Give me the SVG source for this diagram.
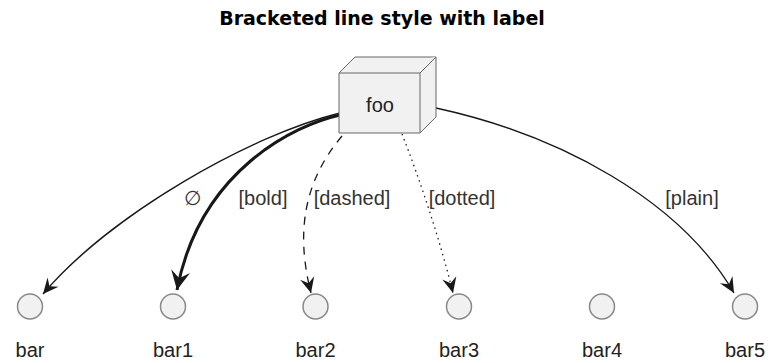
<svg xmlns="http://www.w3.org/2000/svg" width="769" height="363" viewBox="0 0 769 363">
<style>
.title{font-family:"DejaVu Sans",sans-serif;font-weight:bold;font-size:19px;fill:#000}
.lbl{font-family:"Liberation Sans",Arial,sans-serif;font-size:20px;fill:#222}
.elbl{font-family:"Liberation Sans",Arial,sans-serif;font-size:20px;fill:#333}
.circ{fill:#F1F1F1;stroke:#888;stroke-width:1.5}
.box{fill:#F1F1F1;stroke:#666;stroke-width:1}
.e{fill:none;stroke:#181818;stroke-width:1.3}
.bold{stroke-width:3}
</style>
<defs>
<marker id="ah" markerUnits="userSpaceOnUse" markerWidth="20" markerHeight="20" refX="0" refY="0" viewBox="-16 -8 18 16" orient="auto" overflow="visible">
<path d="M0,0 L-14,-6.5 L-9,0 L-14,6.5 Z" fill="#181818"/>
</marker>
<marker id="ahb" markerUnits="userSpaceOnUse" markerWidth="24" markerHeight="24" refX="0" refY="0" viewBox="-18 -9 20 18" orient="auto" overflow="visible">
<path d="M0,0 L-16,-8 L-10,0 L-16,8 Z" fill="#181818"/>
</marker>
</defs>
<text class="title" x="382" y="25" text-anchor="middle">Bracketed line style with label</text>
<g id="connectors">
<path class="e" d="M340,113 C250,135 110,215 43,294" marker-end="url(#ah)"/>
<path class="e bold" d="M340,115 C295,125 200,170 177,290" marker-end="url(#ahb)"/>
<path class="e" d="M342,136 C305,180 295,230 311,293" stroke-dasharray="8,7" marker-end="url(#ah)"/>
<path class="e" d="M402,134 C420,180 440,240 453,293" stroke-dasharray="1.5,4" marker-end="url(#ah)"/>
<path class="e" d="M436,108 C560,135 680,200 734,293" marker-end="url(#ah)"/>
<text class="elbl" x="192" y="205" text-anchor="middle">∅</text>
<text class="elbl" x="263" y="205" text-anchor="middle">[bold]</text>
<text class="elbl" x="352" y="205" text-anchor="middle">[dashed]</text>
<text class="elbl" x="462" y="205" text-anchor="middle">[dotted]</text>
<text class="elbl" x="692" y="205" text-anchor="middle">[plain]</text>
</g>
<g id="foo">
<path class="box" d="M339,73 L355,57 L436,57 L436,117 L420,133 L339,133 Z"/>
<path class="box" d="M339,73 L420,73 L436,57 M420,73 L420,133" fill="none"/>
<text class="lbl" x="380" y="112" text-anchor="middle">foo</text>
</g>
<g id="bar"><circle class="circ" cx="30" cy="306.5" r="12.5"/><text class="lbl" x="30" y="357" text-anchor="middle">bar</text></g>
<g id="bar1"><circle class="circ" cx="173" cy="306.5" r="12.5"/><text class="lbl" x="173" y="357" text-anchor="middle">bar1</text></g>
<g id="bar2"><circle class="circ" cx="315.5" cy="306.5" r="12.5"/><text class="lbl" x="315.5" y="357" text-anchor="middle">bar2</text></g>
<g id="bar3"><circle class="circ" cx="459" cy="306.5" r="12.5"/><text class="lbl" x="459" y="357" text-anchor="middle">bar3</text></g>
<g id="bar4"><circle class="circ" cx="602" cy="306.5" r="12.5"/><text class="lbl" x="602" y="357" text-anchor="middle">bar4</text></g>
<g id="bar5"><circle class="circ" cx="745" cy="306.5" r="12.5"/><text class="lbl" x="745" y="357" text-anchor="middle">bar5</text></g>
</svg>
